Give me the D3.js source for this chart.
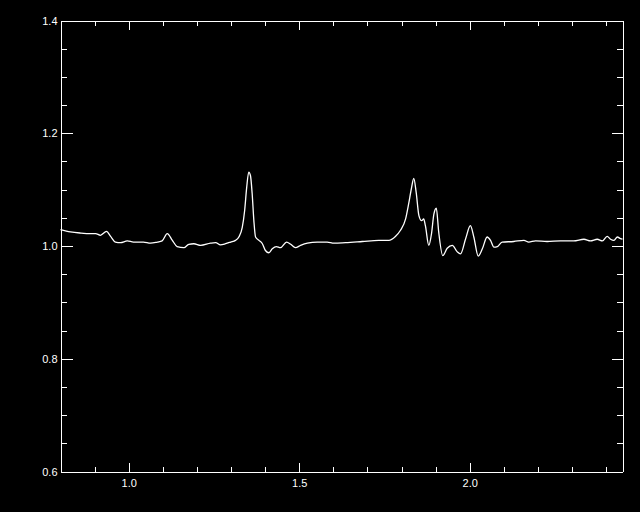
<!DOCTYPE html>
<html>
<head>
<meta charset="utf-8">
<script src="https://cdn.jsdelivr.net/npm/d3@7"></script>
<style>
  html, body { margin: 0; padding: 0; background: #000; }
  svg { display: block; }
  .axis text { fill: #fff; font-family: "Liberation Sans", Arial, sans-serif; font-size: 11px; }
  .axis path, .axis line { stroke: #fff; stroke-width: 1; shape-rendering: crispEdges; }
</style>
</head>
<body>
<svg width="640" height="512"></svg>
<script>
// spectrum
var wave = [0.800, 0.829, 0.859, 0.888, 0.903, 0.917, 0.935, 0.947, 0.961, 0.976,
  0.996, 1.014, 1.043, 1.064, 1.084, 1.098, 1.113, 1.128, 1.142, 1.162,
  1.176, 1.191, 1.211, 1.240, 1.255, 1.269, 1.284, 1.299, 1.313, 1.323,
  1.333, 1.340, 1.346, 1.352, 1.357, 1.362, 1.367, 1.372, 1.382, 1.392,
  1.401, 1.411, 1.421, 1.433, 1.445, 1.463, 1.475, 1.489, 1.504, 1.524,
  1.553, 1.582, 1.602, 1.636, 1.685, 1.733, 1.763, 1.782, 1.797, 1.812,
  1.821, 1.829, 1.836, 1.843, 1.851, 1.859, 1.865, 1.870, 1.880, 1.888,
  1.895, 1.902, 1.909, 1.921, 1.934, 1.949, 1.963, 1.973, 1.988, 2.002,
  2.012, 2.025, 2.037, 2.051, 2.061, 2.071, 2.081, 2.095, 2.129, 2.159,
  2.173, 2.193, 2.227, 2.266, 2.305, 2.335, 2.354, 2.374, 2.389, 2.403,
  2.413, 2.423, 2.433, 2.442, 2.448];
var flux = [1.029, 1.025, 1.023, 1.022, 1.022, 1.019, 1.026, 1.017, 1.007, 1.006,
  1.009, 1.007, 1.007, 1.005, 1.007, 1.009, 1.022, 1.010, 0.999, 0.997,
  1.003, 1.004, 1.001, 1.005, 1.006, 1.002, 1.004, 1.007, 1.010, 1.016,
  1.033, 1.063, 1.104, 1.131, 1.125, 1.093, 1.045, 1.016, 1.010, 1.004,
  0.992, 0.988, 0.995, 0.999, 0.997, 1.007, 1.003, 0.997, 1.001, 1.005,
  1.007, 1.007, 1.005, 1.006, 1.008, 1.010, 1.010, 1.017, 1.028, 1.048,
  1.075, 1.102, 1.120, 1.095, 1.054, 1.045, 1.048, 1.036, 1.001, 1.022,
  1.057, 1.067, 1.025, 0.983, 0.996, 1.001, 0.990, 0.986, 1.013, 1.036,
  1.016, 0.982, 0.995, 1.016, 1.010, 0.998, 0.999, 1.007, 1.008, 1.010,
  1.007, 1.009, 1.008, 1.009, 1.009, 1.012, 1.009, 1.012, 1.009, 1.017,
  1.012, 1.010, 1.016, 1.013, 1.012];

var xMajor = [1.0, 1.5, 2.0];
var xMinor = [0.9, 1.0, 1.1, 1.2, 1.3, 1.4, 1.5, 1.6, 1.7, 1.8, 1.9, 2.0, 2.1, 2.2, 2.3, 2.4];
var yMajor = [0.6, 0.8, 1.0, 1.2, 1.4];
var yMinor = [0.65, 0.7, 0.75, 0.85, 0.9, 0.95, 1.05, 1.1, 1.15, 1.25, 1.3, 1.35];

var svg = d3.select("svg");
var plotL = 60, plotR = 622, plotT = 20, plotB = 471;

var x = d3.scaleLinear().domain([0.8, 2.448]).range([plotL, plotR]);
var y = d3.scaleLinear().domain([0.6, 1.4]).range([plotB, plotT]);

var g = svg.append("g").attr("transform", "translate(0.5,0.5)");

// bottom axis with labels, minor ticks on their own
g.append("g").attr("class", "axis")
    .attr("transform", "translate(0," + plotB + ")")
    .call(d3.axisBottom(x).tickValues(xMajor).tickSizeInner(-9).tickSizeOuter(0)
        .tickPadding(8).tickFormat(d3.format(".1f")));
g.append("g").attr("class", "axis")
    .attr("transform", "translate(0," + plotB + ")")
    .call(d3.axisBottom(x).tickValues(xMinor).tickSizeInner(-5).tickSizeOuter(0).tickFormat(""));
// top
g.append("g").attr("class", "axis")
    .attr("transform", "translate(0," + plotT + ")")
    .call(d3.axisTop(x).tickValues(xMajor).tickSizeInner(-9).tickSizeOuter(0).tickFormat(""));
g.append("g").attr("class", "axis")
    .attr("transform", "translate(0," + plotT + ")")
    .call(d3.axisTop(x).tickValues(xMinor).tickSizeInner(-5).tickSizeOuter(0).tickFormat(""));

// left axis with labels
g.append("g").attr("class", "axis")
    .attr("transform", "translate(" + plotL + ",0)")
    .call(d3.axisLeft(y).tickValues(yMajor).tickSizeInner(-12).tickSizeOuter(0)
        .tickPadding(3).tickFormat(d3.format(".1f")));
g.append("g").attr("class", "axis")
    .attr("transform", "translate(" + plotL + ",0)")
    .call(d3.axisLeft(y).tickValues(yMinor).tickSizeInner(-6).tickSizeOuter(0).tickFormat(""));
// right
g.append("g").attr("class", "axis")
    .attr("transform", "translate(" + plotR + ",0)")
    .call(d3.axisRight(y).tickValues(yMajor).tickSizeInner(-11).tickSizeOuter(0).tickFormat(""));
g.append("g").attr("class", "axis")
    .attr("transform", "translate(" + plotR + ",0)")
    .call(d3.axisRight(y).tickValues(yMinor).tickSizeInner(-6).tickSizeOuter(0).tickFormat(""));

var line = d3.line()
    .x(function (d, i) { return x(wave[i]); })
    .y(function (d) { return y(d); })
    .curve(d3.curveMonotoneX);

g.append("path")
    .datum(flux)
    .attr("d", line)
    .attr("fill", "none")
    .attr("stroke", "#fff")
    .attr("stroke-width", 1.3);
</script>
</body>
</html>
